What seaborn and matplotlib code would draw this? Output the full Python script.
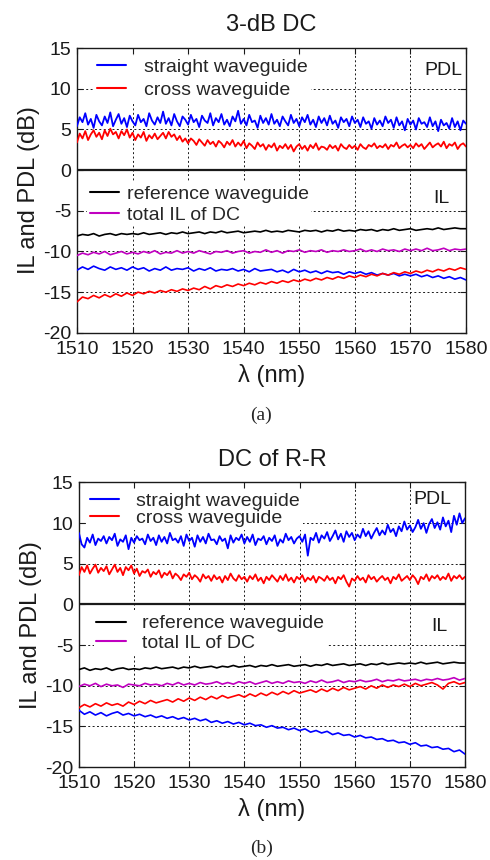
import numpy as np
import pandas as pd
import matplotlib
matplotlib.use("Agg")
import matplotlib.pyplot as plt
import seaborn as sns

# wavelength grids: PDL traces read at 0.5 nm, IL traces at 1 nm
wl_pdl = np.arange(1510, 1580.25, 0.5)
wl_il = np.arange(1510, 1581)

# ---- panel (a): 3-dB DC ----
a_pdl_straight = [5.4, 6.5, 5.9, 7.0, 5.6, 6.3, 5.2, 6.8, 6.0, 5.5,
                  6.6, 5.8, 7.1, 5.4, 6.2, 6.9, 5.7, 6.4, 5.3, 6.7,
                  6.0, 5.5, 6.8, 5.9, 6.3, 5.4, 7.0, 6.1, 5.6, 6.5,
                  5.8, 7.2, 5.7, 6.4, 5.5, 6.9, 6.0, 5.4, 6.6, 6.2,
                  5.6, 6.8, 5.9, 6.3, 5.3, 6.7, 6.1, 5.8, 7.0, 5.5,
                  6.4, 5.9, 6.9, 5.6, 6.2, 5.4, 6.6, 6.0, 7.3, 5.7,
                  6.3, 5.5, 6.8, 5.9, 6.1, 5.2, 6.7, 5.8, 6.4, 5.6,
                  6.9, 5.7, 6.2, 5.4, 6.6, 6.0, 5.5, 6.8, 5.8, 6.3,
                  5.4, 6.5, 5.9, 6.8, 5.6, 6.2, 5.3, 6.6, 5.8, 6.4,
                  5.5, 6.7, 5.7, 6.1, 5.2, 6.5, 5.9, 6.3, 5.4, 6.6,
                  5.8, 6.2, 5.3, 6.5, 5.7, 6.0, 5.1, 6.4, 5.6, 6.1,
                  5.4, 6.6, 5.8, 6.2, 5.2, 6.5, 5.5, 6.0, 4.9, 6.3,
                  5.6, 6.1, 5.0, 6.4, 5.7, 5.9, 5.3, 6.5, 5.4, 6.0,
                  4.8, 6.2, 5.5, 5.8, 5.1, 6.4, 5.3, 6.0, 4.9, 6.1,
                  5.7]
a_pdl_cross = [3.4, 4.5, 3.9, 4.8, 3.7, 4.4, 4.9, 4.1, 4.6, 3.8,
               4.9, 4.2, 5.1, 4.4, 4.7, 3.9, 4.8, 4.3, 5.0, 4.0,
               4.6, 3.7, 4.4, 4.0, 4.7, 3.6, 4.3, 3.9, 4.5, 3.8,
               4.2, 4.6, 3.9, 4.7, 4.1, 4.4, 3.7, 4.2, 3.5, 3.9,
               3.3, 3.9, 3.6, 3.1, 3.8, 3.4, 3.0, 3.7, 3.2, 3.5,
               2.9, 3.6, 3.3, 2.8, 3.5, 3.1, 3.7, 2.9, 3.4, 3.0,
               3.6, 2.7, 3.3, 3.0, 2.6, 3.4, 2.9, 3.2, 2.5, 3.1,
               2.8, 3.3, 2.4, 3.0, 2.7, 3.2, 2.6, 3.1, 2.3, 2.9,
               3.2, 2.6, 3.0, 2.4, 3.1, 2.7, 3.3, 2.5, 2.9, 2.8,
               2.5, 3.1, 2.7, 3.0, 2.4, 3.2, 2.8, 2.6, 3.1, 2.7,
               3.0, 2.5, 3.2, 2.8, 2.6, 3.1, 2.9, 3.3, 2.7, 3.0,
               2.8, 3.2, 2.6, 3.1, 2.9, 3.4, 2.7, 3.0, 3.2, 2.8,
               3.1, 2.7, 3.3, 2.9, 3.2, 2.6, 3.0, 3.4, 2.8, 3.1,
               3.3, 2.9, 3.5, 2.7, 3.2, 3.0, 3.4, 2.6, 3.1, 3.3,
               2.9]
a_il_reference = [-8.1, -7.9, -8.0, -7.8, -8.1, -7.9, -7.8, -8.0, -7.8, -7.9,
                  -7.8, -7.9, -7.7, -7.9, -7.8, -7.7, -7.9, -7.7, -7.8, -7.6,
                  -7.8, -7.7, -7.6, -7.8, -7.6, -7.7, -7.5, -7.7, -7.6, -7.5,
                  -7.7, -7.6, -7.5, -7.6, -7.4, -7.6, -7.5, -7.6, -7.4, -7.5,
                  -7.6, -7.4, -7.5, -7.4, -7.6, -7.4, -7.5, -7.3, -7.5, -7.4,
                  -7.5, -7.3, -7.4, -7.3, -7.5, -7.3, -7.4, -7.2, -7.4, -7.3,
                  -7.2, -7.4, -7.3, -7.2, -7.3, -7.1, -7.3, -7.2, -7.1, -7.2,
                  -7.2]
a_il_total = [-10.5, -10.2, -10.4, -10.1, -10.3, -10.0, -10.4, -10.2, -10.0, -10.3,
              -10.1, -10.3, -10.0, -10.2, -9.9, -10.3, -10.1, -10.2, -9.9, -10.2,
              -10.0, -10.2, -9.9, -10.1, -10.3, -10.0, -10.1, -9.9, -10.2, -10.0,
              -9.9, -10.2, -10.0, -10.1, -9.8, -10.1, -9.9, -10.2, -9.9, -10.0,
              -9.8, -10.1, -9.9, -10.0, -9.8, -10.1, -9.9, -10.0, -9.8, -10.0,
              -9.9, -9.7, -10.0, -9.8, -10.0, -9.7, -9.9, -9.8, -10.0, -9.7,
              -9.9, -9.7, -9.9, -9.6, -9.9, -9.8, -9.6, -9.9, -9.7, -9.8,
              -9.7]
a_il_straight = [-12.3, -11.9, -12.2, -11.8, -12.1, -12.3, -11.9, -12.2, -12.0, -12.3,
                 -11.9, -12.2, -12.0, -12.4, -12.1, -12.3, -11.9, -12.3, -12.1, -12.2,
                 -12.0, -12.4, -12.1, -12.3, -12.0, -12.4, -12.2, -12.3, -12.1, -12.4,
                 -12.2, -12.5, -12.1, -12.4, -12.3, -12.2, -12.5, -12.3, -12.6, -12.2,
                 -12.5, -12.3, -12.6, -12.4, -12.7, -12.4, -12.6, -12.5, -12.8, -12.5,
                 -12.7, -12.5, -12.8, -12.6, -12.9, -12.7, -12.9, -12.7, -13.0, -12.8,
                 -13.0, -12.8, -13.1, -12.9, -13.2, -13.0, -13.3, -13.1, -13.4, -13.2,
                 -13.5]
a_il_cross = [-16.2, -15.6, -15.8, -15.4, -15.7, -15.3, -15.6, -15.2, -15.5, -15.1,
              -15.4, -15.0, -15.2, -14.9, -15.1, -14.8, -15.0, -14.7, -14.9, -14.6,
              -14.8, -14.5, -14.7, -14.3, -14.6, -14.2, -14.4, -14.1, -14.3, -14.0,
              -14.2, -13.9, -14.1, -13.8, -14.0, -13.7, -13.9, -13.6, -13.8, -13.5,
              -13.7, -13.4, -13.6, -13.3, -13.5, -13.2, -13.4, -13.1, -13.3, -13.0,
              -13.2, -12.9, -13.1, -12.8, -13.0, -12.7, -12.9, -12.6, -12.8, -12.5,
              -12.7, -12.4, -12.6, -12.3, -12.5, -12.2, -12.4, -12.1, -12.3, -12.0,
              -12.2]

# ---- panel (b): DC of R-R ----
b_pdl_straight = [8.8, 7.4, 7.0, 8.2, 7.6, 8.6, 7.3, 8.1, 7.8, 8.4,
                  7.5, 8.3, 7.9, 8.7, 7.2, 8.0, 7.7, 8.5, 6.8, 8.2,
                  7.6, 8.4, 7.9, 8.1, 7.4, 8.6, 7.8, 8.2, 7.3, 8.5,
                  7.7, 8.3, 7.5, 8.8, 7.9, 8.1, 7.6, 8.4, 7.2, 8.6,
                  7.8, 8.2, 7.1, 8.5, 7.7, 8.3, 7.5, 8.7, 7.9, 8.0,
                  7.4, 8.4, 7.8, 8.1, 6.9, 8.5, 7.6, 8.2, 7.9, 8.6,
                  7.5, 8.3, 7.7, 8.6, 7.3, 8.1, 7.9, 8.4, 7.4, 8.2,
                  7.8, 8.5, 7.2, 8.0, 7.6, 8.7, 7.9, 8.3, 7.5, 8.1,
                  8.4, 7.7, 8.6, 6.0, 8.2, 7.9, 8.8, 7.6, 8.5, 8.1,
                  8.9, 7.8, 8.4, 9.1, 8.0, 8.7, 7.7, 9.0, 8.3, 8.8,
                  7.9, 8.6, 8.2, 9.3, 8.4, 9.0, 8.1, 8.8, 9.4, 8.5,
                  9.1, 8.6, 9.8, 8.9, 9.3, 8.4, 9.6, 9.0, 10.2, 9.2,
                  9.7, 8.9, 9.5, 10.4, 9.3, 10.0, 8.8, 9.9, 10.5, 9.4,
                  10.1, 9.2, 10.7, 9.6, 10.3, 8.9, 10.9, 9.8, 11.2, 10.0,
                  10.6]
b_pdl_cross = [3.6, 4.6, 4.0, 4.8, 3.8, 4.4, 4.9, 3.9, 4.5, 4.1,
               4.7, 3.7, 4.3, 4.9, 4.0, 4.5, 3.6, 4.6, 4.2, 4.8,
               3.8, 4.4, 3.5, 4.1, 3.9, 4.3, 3.4, 4.0, 3.7, 4.2,
               3.3, 3.9, 3.6, 4.1, 3.2, 3.8, 3.5, 3.0, 3.7, 3.4,
               3.9, 3.1, 3.6, 3.3, 2.8, 3.7, 3.2, 3.5, 2.9, 3.6,
               3.1, 3.4, 2.7, 3.5, 3.0, 3.8, 3.2, 2.9, 3.6, 3.1,
               3.4, 2.8, 3.5, 3.1, 3.7, 2.9, 3.3, 2.6, 3.4, 3.0,
               3.6, 3.2, 2.8, 3.5, 3.0, 3.7, 2.9, 3.3, 2.7, 3.4,
               3.1, 3.6, 2.8, 3.3, 3.0, 3.5, 2.7, 3.4, 3.2, 2.9,
               3.5, 3.0, 3.3, 2.6, 3.4, 3.1, 3.6, 2.8, 2.2, 3.2,
               2.9, 3.5, 3.0, 3.3, 2.7, 3.6, 3.1, 3.4, 2.8, 3.2,
               3.5, 3.0, 3.3, 2.6, 3.4, 3.1, 3.7, 2.9, 3.2, 3.5,
               3.0, 3.6, 3.2, 2.5, 3.4, 3.1, 3.7, 2.9, 3.5, 3.2,
               3.6, 3.0, 3.4, 3.1, 3.8, 2.9, 3.5, 3.2, 3.6, 3.1,
               3.4]
b_il_reference = [-8.0, -7.8, -8.1, -7.9, -8.0, -7.8, -8.1, -7.9, -7.8, -8.0,
                  -7.9, -8.0, -7.8, -7.9, -7.7, -7.9, -7.8, -7.7, -7.9, -7.7,
                  -7.8, -7.6, -7.8, -7.7, -7.6, -7.8, -7.6, -7.7, -7.5, -7.7,
                  -7.6, -7.5, -7.7, -7.5, -7.6, -7.4, -7.6, -7.5, -7.4, -7.6,
                  -7.5, -7.4, -7.6, -7.4, -7.5, -7.3, -7.5, -7.4, -7.3, -7.5,
                  -7.4, -7.3, -7.5, -7.3, -7.4, -7.2, -7.4, -7.3, -7.2, -7.3,
                  -7.2, -7.3, -7.1, -7.3, -7.2, -7.1, -7.3, -7.2, -7.1, -7.2,
                  -7.2]
b_il_total = [-10.1, -9.8, -10.0, -9.7, -10.1, -9.8, -10.0, -9.9, -10.2, -9.8,
              -9.9, -10.0, -9.7, -9.9, -9.8, -10.0, -9.7, -9.9, -9.6, -9.9,
              -9.7, -9.9, -9.6, -9.8, -9.7, -9.5, -9.8, -9.6, -9.8, -9.5,
              -9.7, -9.5, -9.8, -9.6, -9.4, -9.7, -9.5, -9.7, -9.4, -9.6,
              -9.5, -9.7, -9.4, -9.6, -9.3, -9.6, -9.5, -9.3, -9.6, -9.4,
              -9.5, -9.3, -9.5, -9.4, -9.2, -9.5, -9.3, -9.4, -9.2, -9.4,
              -9.3, -9.2, -9.4, -9.2, -9.3, -9.1, -9.3, -9.2, -9.0, -9.3,
              -9.1]
b_il_cross = [-12.7, -12.3, -12.6, -12.2, -12.5, -12.1, -12.4, -12.2, -12.5, -12.0,
              -12.3, -11.9, -12.2, -11.8, -12.1, -11.9, -11.7, -12.0, -11.6, -11.9,
              -11.5, -11.8, -11.4, -11.7, -11.3, -11.6, -11.2, -11.5, -11.3, -11.1,
              -11.4, -11.0, -11.3, -10.9, -11.2, -10.8, -11.1, -10.7, -11.0, -10.6,
              -10.9, -10.7, -10.5, -10.8, -10.4, -10.7, -10.3, -10.6, -10.2, -10.5,
              -10.3, -10.1, -10.4, -10.0, -10.3, -9.9, -10.2, -9.9, -10.1, -9.8,
              -10.1, -9.7, -10.0, -9.8, -9.6, -9.9, -10.4, -9.7, -9.5, -9.8,
              -9.6]
b_il_straight = [-13.0, -13.5, -13.2, -13.6, -13.3, -13.7, -13.4, -13.2, -13.6, -13.4,
                 -13.7, -13.5, -13.8, -13.6, -13.9, -13.7, -14.0, -13.8, -14.1, -13.9,
                 -14.2, -14.0, -14.3, -14.1, -14.5, -14.3, -14.6, -14.4, -14.7, -14.5,
                 -14.8, -14.6, -14.9, -14.8, -15.1, -14.9, -15.2, -15.1, -15.4, -15.2,
                 -15.5, -15.3, -15.7, -15.5, -15.8, -15.6, -16.0, -15.8, -16.1, -16.0,
                 -16.3, -16.1, -16.4, -16.3, -16.6, -16.5, -16.8, -16.7, -17.0, -16.9,
                 -17.2, -17.0, -17.4, -17.3, -17.6, -17.5, -17.8, -17.7, -18.1, -17.9,
                 -18.4]

pdl_labels = ["straight waveguide", "cross waveguide"]
il_labels = ["reference waveguide", "total IL of DC"]
BLUE, RED, BLACK, MAGENTA = "#0000ff", "#ff0000", "#000000", "#c000c0"

sns.set_theme(style="white")
plt.rcParams["font.family"] = ["Liberation Sans", "DejaVu Sans"]
plt.rcParams["axes.unicode_minus"] = False

fig = plt.figure(figsize=(4.9, 8.6), dpi=100)
ax_a = fig.add_axes([0.157, 0.613, 0.794, 0.331])
ax_b = fig.add_axes([0.161, 0.108, 0.788, 0.331])


def draw_panel(ax, pdl_s, pdl_c, il_ref, il_tot, il_s, il_c):
    series = [(wl_pdl, pdl_s, BLUE, 1.3), (wl_pdl, pdl_c, RED, 1.3),
              (wl_il, il_ref, BLACK, 1.2), (wl_il, il_tot, MAGENTA, 1.2),
              (wl_il, il_s, BLUE, 1.2), (wl_il, il_c, RED, 1.2)]
    for x, vals, col, lw in series:
        sns.lineplot(x=x, y=vals, color=col, lw=lw,
                     estimator=None, legend=False, ax=ax, zorder=3)
    ax.axhline(0, color="k", lw=1.6, zorder=4)
    ax.set_xlim(1510, 1580)
    ax.set_ylim(-20, 15)
    ax.set_xticks(range(1510, 1581, 10))
    ax.set_yticks(range(-20, 16, 5))
    ax.grid(True, color="k", linestyle=(0, (2, 2.5)), lw=0.7, zorder=1)
    ax.set_axisbelow(True)
    for sp in ax.spines.values():
        sp.set_color("k")
        sp.set_linewidth(1.0)
    ax.tick_params(direction="in", length=4, width=0.8, color="k",
                   top=True, right=True, bottom=True, left=True,
                   labelsize=14, labelcolor="k")
    ax.tick_params(axis="x", pad=6)
    ax.tick_params(axis="y", pad=4)
    ax.set_xlabel("λ (nm)", fontsize=17, color="k", labelpad=4)
    ax.set_ylabel("IL and PDL (dB)", fontsize=17, color="k", labelpad=2)
    return ax.lines


def add_legend(ax, handles, labels, anchor, textpad, spacing):
    leg = ax.legend(handles, labels, loc="center left", bbox_to_anchor=anchor,
                    frameon=True, facecolor="white", edgecolor="none",
                    framealpha=1, fancybox=False, borderpad=0.15,
                    borderaxespad=0, handlelength=1.5, handletextpad=textpad,
                    labelspacing=spacing, fontsize=14)
    for line in leg.get_lines():
        line.set_linewidth(1.5)
    ax.add_artist(leg)


# panel (a)
lines = draw_panel(ax_a, a_pdl_straight, a_pdl_cross, a_il_reference,
                   a_il_total, a_il_straight, a_il_cross)
ax_a.set_title("3-dB DC", fontsize=17, color="k", pad=12)
add_legend(ax_a, lines[0:2], pdl_labels, (0.043, 0.893), 0.95, 0.25)
add_legend(ax_a, lines[2:4], il_labels, (0.025, 0.451), 0.4, 0.15)
ax_a.text(1575.9, 12.3, "PDL", fontsize=14, ha="center", va="center", color="k")
ax_a.text(1575.6, -3.5, "IL", fontsize=14, ha="center", va="center", color="k")

# panel (b)
lines = draw_panel(ax_b, b_pdl_straight, b_pdl_cross, b_il_reference,
                   b_il_total, b_il_straight, b_il_cross)
ax_b.set_title("DC of R-R", fontsize=17, color="k", pad=12)
add_legend(ax_b, lines[0:2], pdl_labels, (0.020, 0.905), 0.9, 0.0)
add_legend(ax_b, lines[2:4], il_labels, (0.038, 0.470), 0.85, 0.1)
ax_b.text(1574.1, 12.9, "PDL", fontsize=14, ha="center", va="center", color="k")
ax_b.text(1575.3, -2.7, "IL", fontsize=14, ha="center", va="center", color="k")

fig.text(0.533, 0.517, "(a)", fontsize=14, ha="center", va="center",
         family=["Liberation Serif", "DejaVu Serif"])
fig.text(0.533, 0.014, "(b)", fontsize=14, ha="center", va="center",
         family=["Liberation Serif", "DejaVu Serif"])

fig.savefig("out.png", dpi=100, facecolor="white")
